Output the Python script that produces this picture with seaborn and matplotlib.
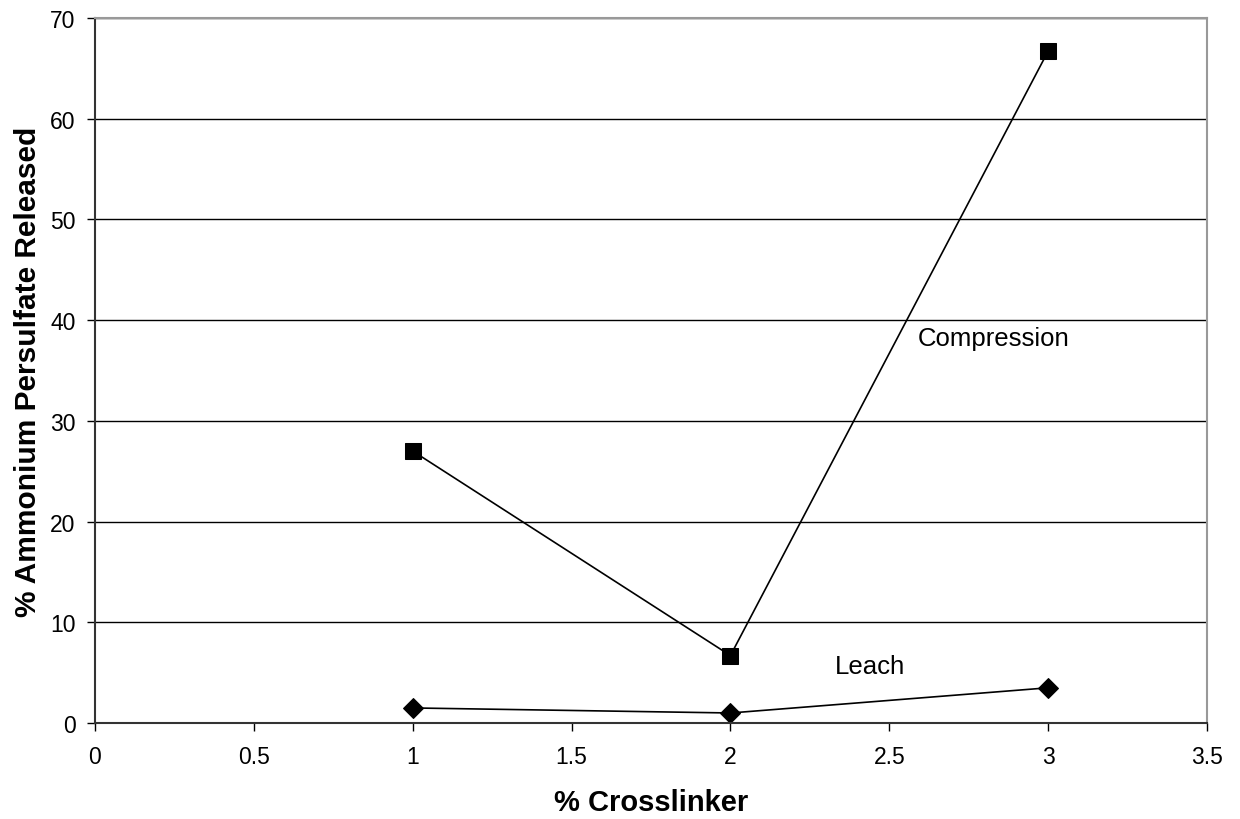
import seaborn as sns
import matplotlib
matplotlib.use('Agg')
import matplotlib.pyplot as plt
import pandas as pd

crosslinker = [1, 2, 3]
compression = [27.0, 6.7, 66.7]
leach = [1.5, 1.0, 3.5]

df = pd.DataFrame({
    'x': crosslinker * 2,
    'y': compression + leach,
    'series': ['Compression'] * 3 + ['Leach'] * 3,
})

sns.set_style('white')
plt.rcParams['font.family'] = ['Liberation Sans', 'DejaVu Sans']
plt.rcParams['text.color'] = 'black'
plt.rcParams['axes.labelcolor'] = 'black'
plt.rcParams['xtick.color'] = 'black'
plt.rcParams['ytick.color'] = 'black'

fig = plt.figure(figsize=(12.4, 8.2), dpi=100)
ax = fig.add_axes([0.0766, 0.117, 0.8968, 0.860])

sns.lineplot(data=df, x='x', y='y', hue='series', style='series',
             markers={'Compression': 's', 'Leach': 'D'}, dashes=False,
             palette={'Compression': 'black', 'Leach': 'black'},
             markersize=12, linewidth=1.2, legend=False, ax=ax,
             markeredgecolor='black')
# leach diamonds a bit smaller
ax.lines[1].set_markersize(10)

ax.set_xlim(0, 3.5)
ax.set_ylim(0, 70)
ax.set_xticks([0, 0.5, 1, 1.5, 2, 2.5, 3, 3.5])
ax.set_xticklabels(['0', '0.5', '1', '1.5', '2', '2.5', '3', '3.5'])
ax.set_yticks(range(0, 71, 10))
ax.yaxis.grid(True, color='black', linewidth=1)
ax.set_axisbelow(True)

for side in ['top', 'right']:
    ax.spines[side].set_color('#999999')
    ax.spines[side].set_linewidth(1.5)
for side in ['left', 'bottom']:
    ax.spines[side].set_color('#333333')
    ax.spines[side].set_linewidth(1.5)

ax.tick_params(axis='both', direction='out', length=6, width=1, color='black',
               labelsize=16.5, bottom=True, left=True)
ax.tick_params(axis='x', pad=10)
ax.tick_params(axis='y', pad=8)

ax.set_xlabel('% Crosslinker', fontsize=21, fontweight='bold', labelpad=14)
ax.set_ylabel('% Ammonium Persulfate Released', fontsize=21.5, fontweight='bold', labelpad=6)

ax.text(2.59, 38.2, 'Compression', fontsize=18.5, va='center', ha='left')
ax.text(2.33, 5.7, 'Leach', fontsize=18.5, va='center', ha='left')

fig.savefig('out.png', dpi=100)
